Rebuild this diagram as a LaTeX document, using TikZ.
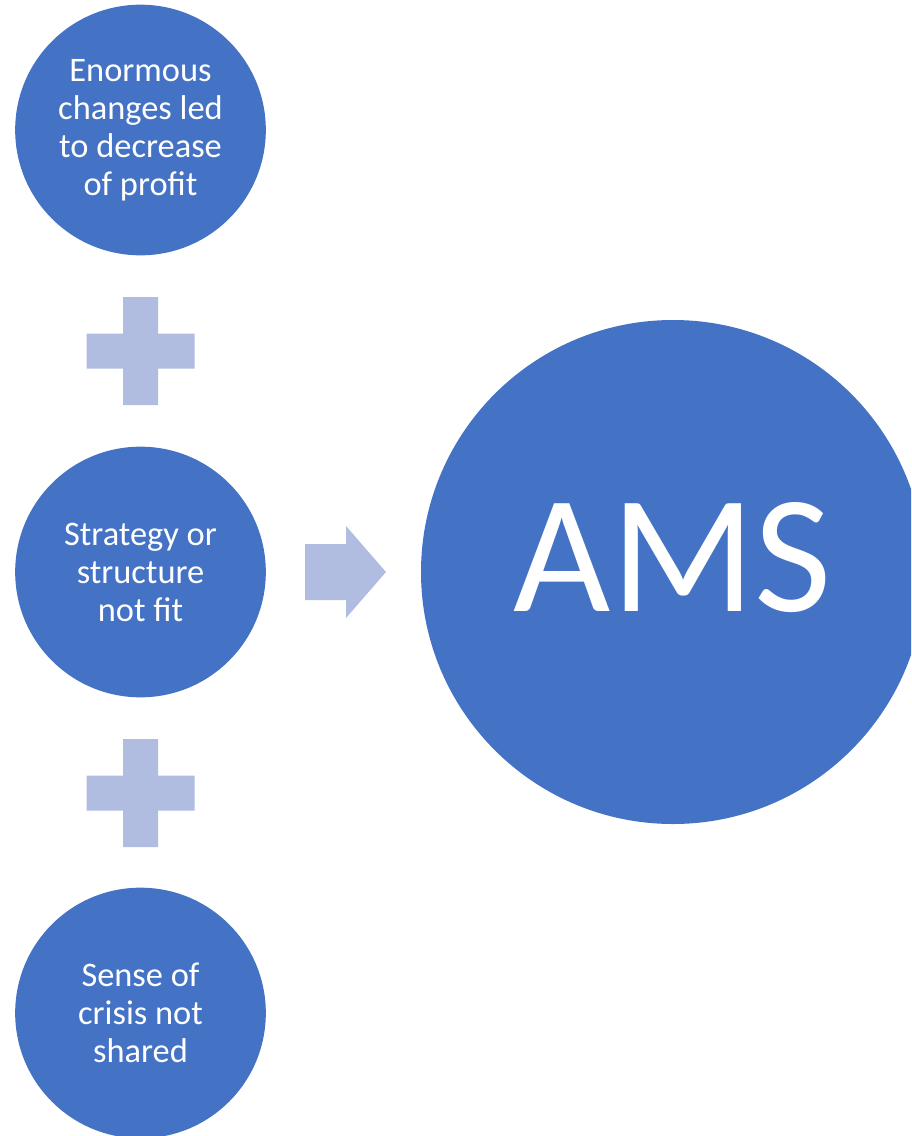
\documentclass[tikz,border=0pt]{standalone}
\usepackage{fontspec}
\setmainfont{Carlito}
\definecolor{circblue}{HTML}{4472C4}
\definecolor{signblue}{HTML}{B0BDE0}
\begin{document}
\begin{tikzpicture}[x=0.75pt,y=-0.75pt,
  bubble/.style={circle,fill=circblue,text=white,inner sep=0pt,minimum size=188pt,
    align=center,font=\fontsize{25.8}{28.5}\selectfont}]
  \useasboundingbox (0,0) rectangle (911,1136);
  \clip (0,0) rectangle (911,1136);
  \node[bubble] (profit) at (140.5,130)  {Enormous\\changes led\\to decrease\\of profit};
  \node[bubble] (fit)    at (140.5,572)  {Strategy or\\structure\\not fit};
  \node[bubble] (crisis) at (140.5,1013) {Sense of\\crisis not\\shared};
  \node[bubble,minimum size=378pt] (ams) at (673,572) {};
  \node[text=white,font=\fontsize{126}{126}\selectfont] at ([yshift=10.5pt]ams.center) {AMS};
  % plus signs and arrow
  \fill[signblue,shift={(140.5,351)}] (-17.5,-54) rectangle (17.5,54) (-54,-17.5) rectangle (54,17.5);
  \fill[signblue,shift={(140.5,793)}] (-17.5,-54) rectangle (17.5,54) (-54,-17.5) rectangle (54,17.5);
  \fill[signblue] (305,544) -- (346,544) -- (346,526) -- (386,572) -- (346,618) -- (346,600) -- (305,600) -- cycle;
\end{tikzpicture}
\end{document}
